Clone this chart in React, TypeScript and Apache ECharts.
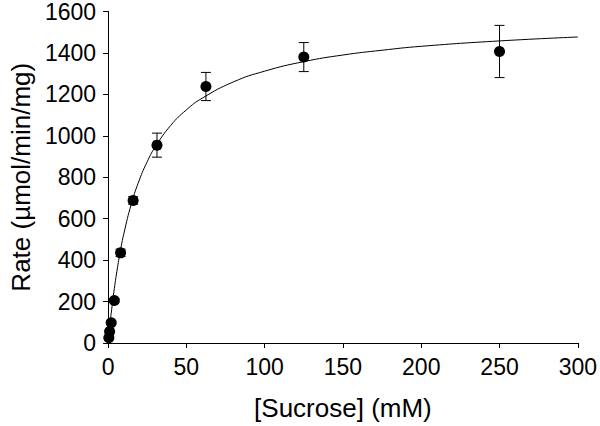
import React, { useEffect, useRef } from "react";
import * as echarts from "echarts";

const concentration = [0.5, 1, 2, 4, 8, 16, 31.25, 62.5, 125, 250];
const rate = [25, 55, 98, 205, 435, 688, 955, 1238, 1380, 1407];
const rateError = [3, 5, 8, 10, 18, 18, 58, 68, 70, 126];

// Fitted curve, points
const fitX = [0, 1, 2, 4, 6, 8, 10, 15, 20, 25, 30, 40, 50, 60, 80, 100, 125, 150, 175, 200, 250, 300];
const fitY = [0, 75, 143, 262, 363, 450, 525, 675, 787, 875, 945, 1050, 1125, 1181, 1260, 1312, 1358, 1390, 1413, 1432, 1458, 1477];

const FONT = "'Liberation Sans', Arial, sans-serif";

export default function App() {
  const ref = useRef<HTMLDivElement>(null);
  useEffect(() => {
    if (!ref.current) return;
    const chart = echarts.init(ref.current, undefined, { renderer: "svg" });
    const points = concentration.map((x, i) => [x, rate[i]]);
    const errors = concentration.map((x, i) => [x, rate[i] - rateError[i], rate[i] + rateError[i]]);
    const fit = fitX.map((x, i) => [x, fitY[i]]);
    chart.setOption({
      animation: false,
      backgroundColor: "#fff",
      grid: { left: 101, right: 21, top: 10, bottom: 82, containLabel: false },
      xAxis: {
        type: "value",
        min: 0,
        max: 300,
        interval: 50,
        name: "[Sucrose] (mM)",
        nameLocation: "middle",
        nameGap: 52,
        nameTextStyle: { fontFamily: FONT, fontSize: 26, color: "#000" },
        axisLine: { show: true, onZero: false, lineStyle: { color: "#000", width: 1 } },
        axisTick: { show: true, inside: false, length: 5, lineStyle: { color: "#000" } },
        axisLabel: {
          fontFamily: FONT,
          fontSize: 23,
          color: "#000",
          margin: 12,
          formatter: (v: number) => String(v),
        },
        splitLine: { show: false },
      },
      yAxis: {
        type: "value",
        min: 0,
        max: 1600,
        interval: 200,
        name: "Rate (µmol/min/mg)",
        nameLocation: "middle",
        nameGap: 74,
        nameTextStyle: { fontFamily: FONT, fontSize: 26, color: "#000" },
        axisLine: { show: true, lineStyle: { color: "#000", width: 1 } },
        axisTick: { show: true, inside: false, length: 5, lineStyle: { color: "#000" } },
        axisLabel: {
          fontFamily: FONT,
          fontSize: 23,
          color: "#000",
          margin: 12,
          formatter: (v: number) => String(v),
        },
        splitLine: { show: false },
      },
      series: [
        {
          type: "line",
          data: fit,
          smooth: true,
          showSymbol: false,
          symbol: "none",
          lineStyle: { color: "#000", width: 1 },
          z: 2,
        },
        {
          type: "custom",
          data: errors,
          z: 3,
          renderItem: (params: any, api: any) => {
            const x = api.value(0);
            const lo = api.coord([x, api.value(1)]);
            const hi = api.coord([x, api.value(2)]);
            const w = 5;
            const style = { stroke: "#000", lineWidth: 1 };
            return {
              type: "group",
              children: [
                { type: "line", shape: { x1: lo[0], y1: lo[1], x2: hi[0], y2: hi[1] }, style },
                { type: "line", shape: { x1: lo[0] - w, y1: lo[1], x2: lo[0] + w, y2: lo[1] }, style },
                { type: "line", shape: { x1: hi[0] - w, y1: hi[1], x2: hi[0] + w, y2: hi[1] }, style },
              ],
            };
          },
        },
        {
          type: "scatter",
          data: points,
          symbol: "circle",
          symbolSize: 11,
          itemStyle: { color: "#000", opacity: 1 },
          z: 4,
        },
      ],
    });
    return () => chart.dispose();
  }, []);
  return <div ref={ref} style={{ width: 600, height: 426, position: "fixed", left: 0, top: 0 }} />;
}
